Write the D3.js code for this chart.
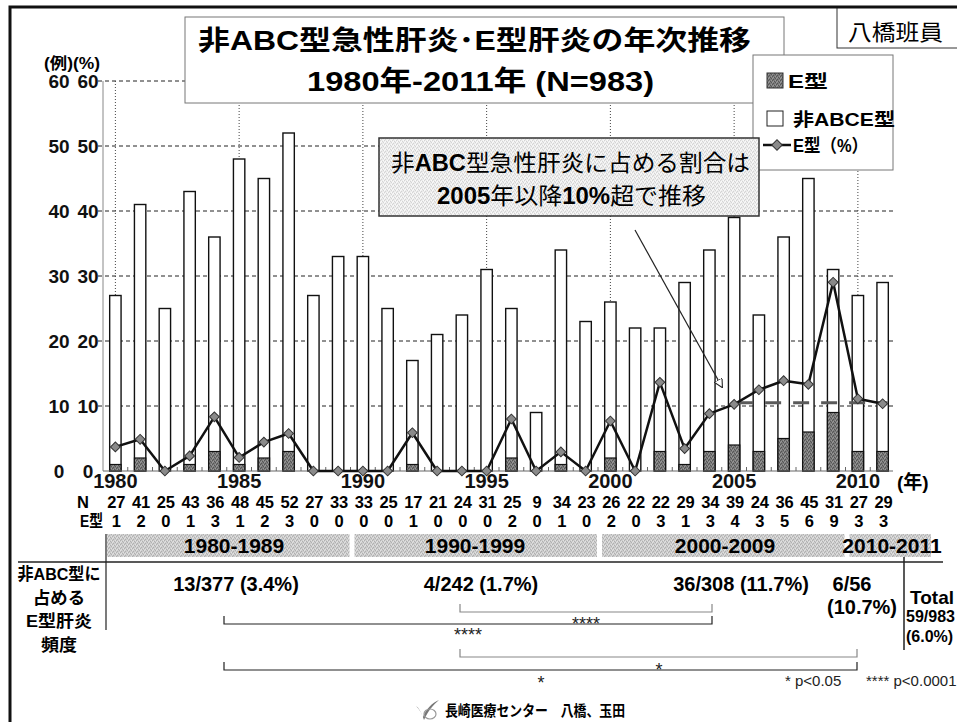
<!DOCTYPE html>
<html>
<head>
<meta charset="utf-8">
<script src="https://cdn.jsdelivr.net/npm/d3@7"></script>
<style>
  body { margin: 0; background: #fff; }
  svg { display: block; font-family: "Liberation Sans", "Noto Sans CJK JP", sans-serif; }
  .b { font-weight: bold; }
</style>
</head>
<body>
<svg id="chart" width="957" height="722"></svg>
<script>
// ---- data -------------------------------------------------------------
const years = ["1980","1981","1982","1983","1984","1985","1986","1987","1988","1989",
               "1990","1991","1992","1993","1994","1995","1996","1997","1998","1999",
               "2000","2001","2002","2003","2004","2005","2006","2007","2008","2009",
               "2010","2011"];
// total non-ABC acute hepatitis cases per year (N)
const nCases = [27,41,25,43,36,48,45,52,27,33,
                33,25,17,21,24,31,25, 9,34,23,
                26,22,22,29,34,39,24,36,45,31,
                27,29];
// hepatitis E cases per year
const eCases = [1,2,0,1,3,1,2,3,0,0,
                0,0,1,0,0,0,2,0,1,0,
                2,0,3,1,3,4,3,5,6,9,
                3,3];
const yTicks = [0,10,20,30,40,50,60];
const yearLabels = ["1980","1985","1990","1995","2000","2005","2010"];
const decades = ["1980-1989","1990-1999","2000-2009","2010-2011"];
const decadeRange = [["1980","1989"],["1990","1999"],["2000","2009"],["2010","2011"]];
const decadeRates = [["13/377 (3.4%)"],["4/242 (1.7%)"],["36/308 (11.7%)"],["6/56","(10.7%)"]];
const totalLines = ["Total","59/983","(6.0%)"];
const legendLabels = ["E型","非ABCE型","E型（%）"];

// share of hepatitis E among non-ABC cases (%)
const ePct = eCases.map((e, i) => e / nCases[i] * 100);

// ---- layout -----------------------------------------------------------
const svg = d3.select("#chart");
const FONT_J = '"Liberation Sans","Noto Sans CJK JP",sans-serif';

const x = d3.scaleBand().domain(years).range([103, 895]).paddingInner(0.54).paddingOuter(0.27);
const y = d3.scaleLinear().domain([0, 60]).range([471, 81]);
const cx = d => x(d) + x.bandwidth() / 2;
const step = x.step();
const plotRight = 893;

// textures
const defs = svg.append("defs");
function stipple(id, base, dark, light) {
  const p = defs.append("pattern").attr("id", id).attr("width", 4).attr("height", 4)
    .attr("patternUnits", "userSpaceOnUse");
  p.append("rect").attr("width", 4).attr("height", 4).attr("fill", base);
  [[0,0],[2,1],[1,3],[3,2]].forEach(([a,b]) => p.append("rect").attr("x", a).attr("y", b).attr("width", 1).attr("height", 1).attr("fill", dark));
  [[1,1],[3,0],[0,2]].forEach(([a,b]) => p.append("rect").attr("x", a).attr("y", b).attr("width", 1).attr("height", 1).attr("fill", light));
}
stipple("barE", "#7a7a7a", "#555", "#999");
stipple("band", "#cdcdcd", "#b0b0b0", "#e2e2e2");
stipple("note", "#ececec", "#d4d4d4", "#fafafa");
defs.append("marker").attr("id", "arrow").attr("viewBox", "0 0 10 10")
  .attr("refX", 9).attr("refY", 5).attr("markerWidth", 9).attr("markerHeight", 9)
  .attr("orient", "auto").attr("markerUnits", "userSpaceOnUse")
  .append("path").attr("d", "M0,0 L10,5 L0,10 Z").attr("fill", "#fff").attr("stroke", "#222").attr("stroke-width", 1.2);

// ---- gridlines ----------------------------------------------------------
svg.append("g").selectAll("line").data(yTicks.filter(d => d > 0)).join("line")
  .attr("x1", 98).attr("x2", plotRight).attr("y1", d => y(d)).attr("y2", d => y(d))
  .attr("stroke", "#222").attr("stroke-width", 1).attr("stroke-dasharray", "4,3");

svg.append("g").selectAll("line").data(yearLabels).join("line")
  .attr("x1", d => cx(d)).attr("x2", d => cx(d)).attr("y1", y(60)).attr("y2", y(0))
  .attr("stroke", "#444").attr("stroke-width", 1).attr("stroke-dasharray", "1,2");

// y axis line
svg.append("line").attr("x1", 103).attr("x2", 103).attr("y1", y(60)).attr("y2", y(0))
  .attr("stroke", "#888").attr("stroke-width", 1);

// ---- title box --------------------------------------------------------
svg.append("rect").attr("x", 185).attr("y", 17).attr("width", 599).attr("height", 86)
  .attr("fill", "#fff").attr("stroke", "#777").attr("stroke-width", 1);
svg.append("text").attr("class", "b").attr("x", 198).attr("y", 50)
  .attr("font-size", 27).attr("textLength", 553).attr("lengthAdjust", "spacingAndGlyphs")
  .text("非ABC型急性肝炎･E型肝炎の年次推移");
svg.append("text").attr("class", "b").attr("x", 307).attr("y", 91)
  .attr("font-size", 28).attr("textLength", 347).attr("lengthAdjust", "spacingAndGlyphs")
  .text("1980年-2011年 (N=983)");

// ---- corner tag -------------------------------------------------------
svg.append("rect").attr("x", 837).attr("y", 7).attr("width", 130).attr("height", 41)
  .attr("fill", "#fff").attr("stroke", "#333").attr("stroke-width", 1);
svg.append("text").attr("x", 848).attr("y", 40).attr("font-size", 22)
  .attr("textLength", 95).attr("lengthAdjust", "spacingAndGlyphs").text("八橋班員");

// ---- legend -----------------------------------------------------------
const lg = svg.append("g");
lg.append("rect").attr("x", 753).attr("y", 55).attr("width", 140).attr("height", 115)
  .attr("fill", "#fff").attr("stroke", "#777").attr("stroke-width", 1);
lg.append("rect").attr("x", 767).attr("y", 73).attr("width", 16).attr("height", 15)
  .attr("fill", "url(#barE)").attr("stroke", "#333");
lg.append("rect").attr("x", 767).attr("y", 111).attr("width", 16).attr("height", 15)
  .attr("fill", "#fff").attr("stroke", "#222");
lg.append("line").attr("x1", 763).attr("x2", 791).attr("y1", 145).attr("y2", 145)
  .attr("stroke", "#111").attr("stroke-width", 2.5);
lg.append("path").attr("d", d3.symbol(d3.symbolSquare, 55)()).attr("transform", "translate(777,145) rotate(45)")
  .attr("fill", "#8a8a8a").attr("stroke", "#333").attr("stroke-width", 1);
[[788, 88, 40], [793, 126, 102], [793, 152, 75]].forEach(([lx, ly, w], i) => {
  lg.append("text").attr("class", "b").attr("x", lx).attr("y", ly).attr("font-size", 18)
    .attr("textLength", w).attr("lengthAdjust", "spacingAndGlyphs").text(legendLabels[i]);
});

// ---- note box ---------------------------------------------------------
svg.append("rect").attr("x", 379).attr("y", 138).attr("width", 380).attr("height", 78)
  .attr("fill", "url(#note)").attr("stroke", "#333").attr("stroke-width", 1.5);
const n1 = svg.append("text").attr("x", 391).attr("y", 171).attr("font-size", 23)
  .attr("textLength", 359).attr("lengthAdjust", "spacingAndGlyphs");
n1.append("tspan").text("非");
n1.append("tspan").attr("class", "b").text("ABC");
n1.append("tspan").text("型急性肝炎に占める割合は");
const n2 = svg.append("text").attr("x", 437).attr("y", 204).attr("font-size", 23)
  .attr("textLength", 269).attr("lengthAdjust", "spacingAndGlyphs");
n2.append("tspan").attr("class", "b").text("2005");
n2.append("tspan").text("年以降");
n2.append("tspan").attr("class", "b").text("10%");
n2.append("tspan").text("超で推移");

// ---- bars -------------------------------------------------------------
const bars = svg.append("g");
bars.selectAll("rect.n").data(years).join("rect").attr("class", "n")
  .attr("x", d => x(d)).attr("width", x.bandwidth())
  .attr("y", (d, i) => y(nCases[i])).attr("height", (d, i) => y(0) - y(nCases[i]))
  .attr("fill", "#fff").attr("stroke", "#111").attr("stroke-width", 1.4);
bars.selectAll("rect.e").data(years.filter((d, i) => eCases[i] > 0)).join("rect").attr("class", "e")
  .attr("x", d => x(d)).attr("width", x.bandwidth())
  .attr("y", d => y(eCases[years.indexOf(d)])).attr("height", d => y(0) - y(eCases[years.indexOf(d)]))
  .attr("fill", "url(#barE)").attr("stroke", "#111").attr("stroke-width", 1.2);

// x axis baseline and minor ticks between categories
svg.append("line").attr("x1", 103).attr("x2", plotRight).attr("y1", y(0)).attr("y2", y(0))
  .attr("stroke", "#666").attr("stroke-width", 1);
svg.append("g").selectAll("line").data(d3.range(1, years.length)).join("line")
  .attr("x1", i => 103 + i * step).attr("x2", i => 103 + i * step)
  .attr("y1", y(0)).attr("y2", y(0) - 4).attr("stroke", "#666").attr("stroke-width", 1);

// 10% reference dashes (2005 onward)
svg.append("line").attr("x1", cx("2005") + 3).attr("x2", cx("2011") + 5)
  .attr("y1", y(10.5)).attr("y2", y(10.5))
  .attr("stroke", "#5a5a5a").attr("stroke-width", 3).attr("stroke-dasharray", "16,12");

// ---- percentage line ----------------------------------------------------
const line = d3.line().x((d, i) => cx(years[i])).y(d => y(d));
svg.append("path").datum(ePct).attr("d", line)
  .attr("fill", "none").attr("stroke", "#111").attr("stroke-width", 2.5).attr("stroke-linejoin", "round");
svg.append("g").selectAll("path").data(ePct).join("path")
  .attr("d", d3.symbol(d3.symbolSquare, 48)())
  .attr("transform", (d, i) => `translate(${cx(years[i])},${y(d)}) rotate(45)`)
  .attr("fill", "#8a8a8a").attr("stroke", "#333").attr("stroke-width", 1);

// ---- axes labels ----------------------------------------------------------
const yAxisCount = d3.axisLeft(y).tickValues(yTicks).tickSize(0).tickPadding(0);
const ga = svg.append("g").attr("transform", "translate(59,0)").call(yAxisCount);
const gb = svg.append("g").attr("transform", "translate(88,0)").call(yAxisCount);
[ga, gb].forEach(g => {
  g.select(".domain").remove();
  g.selectAll("text").attr("text-anchor", "middle").attr("x", 0).attr("dy", "0.36em")
    .attr("font-size", 19).attr("font-weight", "bold").attr("font-family", FONT_J).attr("fill", "#111");
});
svg.append("text").attr("class", "b").attr("x", 44).attr("y", 69).attr("font-size", 16)
  .attr("textLength", 56).attr("lengthAdjust", "spacingAndGlyphs").text("(例)(%)");

const xAxis = d3.axisBottom(x).tickValues(yearLabels).tickSize(0).tickPadding(0);
const gx = svg.append("g").attr("transform", `translate(0,${y(0)})`).call(xAxis);
gx.select(".domain").remove();
gx.selectAll("text").attr("y", 17).attr("dy", 0).attr("font-size", 20).attr("font-weight", "bold")
  .attr("font-family", FONT_J).attr("fill", "#111");
svg.append("text").attr("class", "b").attr("x", 897).attr("y", 489).attr("font-size", 19).text("(年)");

// N and E rows
svg.append("text").attr("class", "b").attr("x", 83).attr("y", 508).attr("font-size", 16.5)
  .attr("text-anchor", "middle").text("N");
svg.append("text").attr("class", "b").attr("x", 80).attr("y", 527).attr("font-size", 16.5)
  .attr("textLength", 23).attr("lengthAdjust", "spacingAndGlyphs").text("E型");
svg.append("g").selectAll("text").data(nCases).join("text").attr("class", "b")
  .attr("x", (d, i) => cx(years[i]) + 1).attr("y", 508).attr("font-size", 16.5)
  .attr("text-anchor", "middle").text(d => d);
svg.append("g").selectAll("text").data(eCases).join("text").attr("class", "b")
  .attr("x", (d, i) => cx(years[i]) + 1).attr("y", 527).attr("font-size", 16.5)
  .attr("text-anchor", "middle").text(d => d);

// ---- decade bands -------------------------------------------------------
const bandX0 = d => x(d) - x.paddingOuter() * step + 4;
const bandX1 = d => x(d) + x.bandwidth() + x.paddingOuter() * step - 1;
const bandExtent = decadeRange.map(([a, b], i) => [bandX0(a), i === decadeRange.length - 1 ? bandX1(b) + 37 : bandX1(b)]);
svg.append("g").selectAll("rect").data(bandExtent).join("rect")
  .attr("x", d => d[0]).attr("y", 534).attr("width", d => d[1] - d[0]).attr("height", 23)
  .attr("fill", "url(#band)");
const decadeTextX = [234, 475, 725, 892];
svg.append("g").selectAll("text").data(decades).join("text").attr("class", "b")
  .attr("x", (d, i) => decadeTextX[i]).attr("y", 553).attr("font-size", 21)
  .attr("text-anchor", "middle").text(d => d);

// ---- summary table --------------------------------------------------------
svg.append("line").attr("x1", 18).attr("x2", 943).attr("y1", 562).attr("y2", 562)
  .attr("stroke", "#222").attr("stroke-width", 1.5);
svg.append("line").attr("x1", 106).attr("x2", 106).attr("y1", 534).attr("y2", 630)
  .attr("stroke", "#222").attr("stroke-width", 1.2);
svg.append("line").attr("x1", 904).attr("x2", 904).attr("y1", 557).attr("y2", 650)
  .attr("stroke", "#222").attr("stroke-width", 1.5);

const rowLabel = ["非ABC型に", "占める", "E型肝炎", "頻度"];
const rowLabelW = [83, 52, 66, 36];
svg.append("g").selectAll("text").data(rowLabel).join("text").attr("class", "b")
  .attr("x", (d, i) => 59 - rowLabelW[i] / 2).attr("y", (d, i) => 580 + i * 23.5).attr("font-size", 17)
  .attr("textLength", (d, i) => rowLabelW[i]).attr("lengthAdjust", "spacingAndGlyphs").text(d => d);

const rateX = [236, 481, 741, 852];
decadeRates.forEach((lines, i) => {
  lines.forEach((t, j) => {
    svg.append("text").attr("class", "b").attr("x", j === 0 ? rateX[i] : 862).attr("y", 591 + j * 23)
      .attr("font-size", 20).attr("text-anchor", "middle").text(t);
  });
});
svg.append("text").attr("class", "b").attr("x", 910).attr("y", 604).attr("font-size", 19).text(totalLines[0]);
svg.append("text").attr("class", "b").attr("x", 906).attr("y", 622).attr("font-size", 16).text(totalLines[1]);
svg.append("text").attr("class", "b").attr("x", 906).attr("y", 642).attr("font-size", 16).text(totalLines[2]);

// significance brackets
const brackets = [
  { x0: 460, x1: 712, yb: 612, c: "#888", lab: "****", lx: 586, ly: 630, fs: 18 },
  { x0: 224, x1: 712, yb: 624, c: "#222", lab: "****", lx: 468, ly: 641, fs: 18 },
  { x0: 460, x1: 857, yb: 657, c: "#888", lab: "*", lx: 659, ly: 676, fs: 18 },
  { x0: 224, x1: 857, yb: 670, c: "#222", lab: "*", lx: 541, ly: 689, fs: 18 }
];
const bg = svg.append("g");
bg.selectAll("path").data(brackets).join("path")
  .attr("d", b => `M${b.x0},${b.yb - 8}V${b.yb}H${b.x1}V${b.yb - 8}`)
  .attr("fill", "none").attr("stroke", b => b.c).attr("stroke-width", 1.2);
bg.selectAll("text").data(brackets).join("text")
  .attr("x", b => b.lx).attr("y", b => b.ly).attr("font-size", b => b.fs)
  .attr("text-anchor", "middle").attr("fill", "#222").text(b => b.lab);

svg.append("text").attr("x", 785).attr("y", 686).attr("font-size", 15).attr("fill", "#222").text("* p<0.05");
svg.append("text").attr("x", 866).attr("y", 686).attr("font-size", 15).attr("fill", "#222").text("**** p<0.0001");

// ---- annotation arrow -----------------------------------------------------
svg.append("line").attr("x1", 635).attr("y1", 230).attr("x2", 722).attr("y2", 387)
  .attr("stroke", "#222").attr("stroke-width", 1.2).attr("marker-end", "url(#arrow)");

// ---- footer -------------------------------------------------------------
const logo = svg.append("g").attr("transform", "translate(415,700)");
logo.append("path").attr("d", "M1,6 C4,8 6,12 8,17 C11,9 17,3 24,0 C18,5 13,11 9,20 C7,14 5,10 1,6 Z")
  .attr("fill", "#777");
logo.append("ellipse").attr("cx", 15).attr("cy", 14).attr("rx", 6).attr("ry", 5)
  .attr("fill", "none").attr("stroke", "#999").attr("stroke-width", 1.2);
svg.append("text").attr("class", "b").attr("x", 445).attr("y", 716).attr("font-size", 15)
  .attr("textLength", 180).attr("lengthAdjust", "spacingAndGlyphs").text("長崎医療センター　八橋、玉田");

// ---- slide frame ----------------------------------------------------------
svg.append("rect").attr("x", 10).attr("y", 7).attr("width", 960).attr("height", 730)
  .attr("fill", "none").attr("stroke", "#111").attr("stroke-width", 3);
</script>
</body>
</html>
